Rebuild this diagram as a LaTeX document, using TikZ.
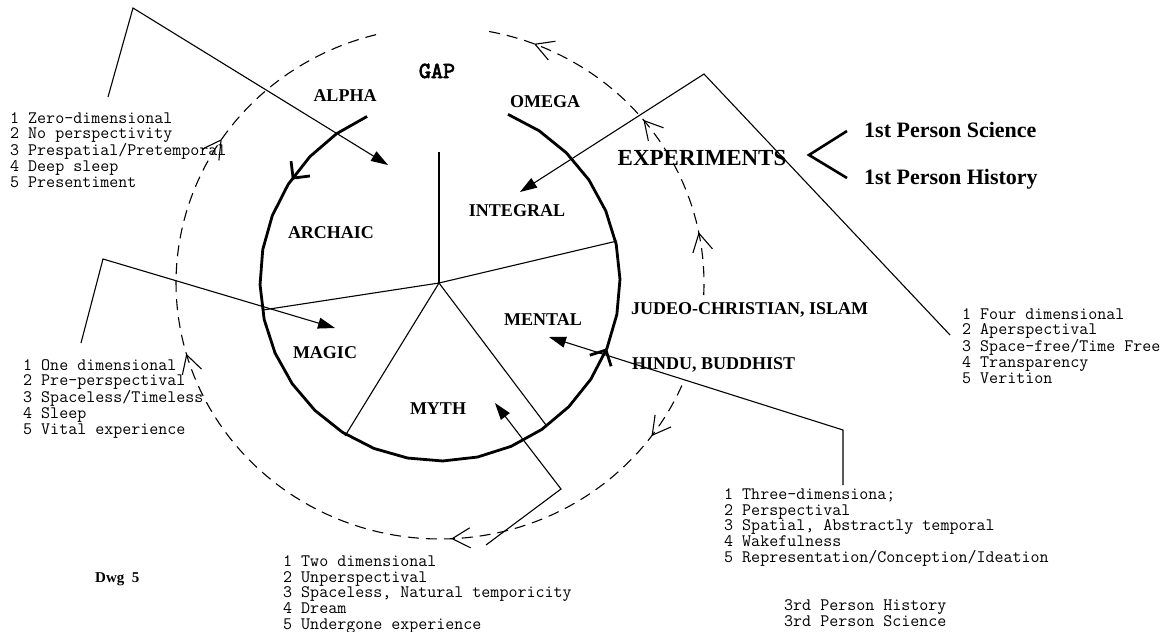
\documentclass[tikz,border=0pt]{standalone}
\usepackage{fontspec}
\setmainfont{Liberation Serif}
\newfontfamily\gapfont[FakeBold=3]{lmmono10-regular.otf}
\usetikzlibrary{arrows.meta,decorations.markings}
\begin{document}
\begin{tikzpicture}[x=1pt,y=-1pt,
  thinline/.style={line width=1.1pt},
  conn/.style={line width=1.1pt, -{Triangle[length=17pt,width=11pt]}},
  ring/.style={line width=2.8pt},
  orbit/.style={line width=1.1pt, dash pattern=on 11pt off 7pt},
  lab/.style={font=\fontsize{18}{20}\selectfont\bfseries, inner sep=0pt, anchor=base},
  labw/.style={font=\fontsize{18}{20}\selectfont\bfseries, inner sep=0pt, anchor=base west},
  big/.style={font=\fontsize{23}{26}\selectfont\bfseries, inner sep=0pt, anchor=base},
  person/.style={font=\fontsize{22}{24}\selectfont\bfseries, inner sep=0pt, anchor=base west},
  list/.style={font=\ttfamily\fontsize{17.5}{15.7}\selectfont, align=left, anchor=base west, inner sep=0pt},
]
\useasboundingbox (0,0) rectangle (1173,632);

% thick ring (alpha -> omega, counterclockwise)
\draw[ring, postaction={decorate}, decoration={markings,
   mark=at position 0.101 with {\arrow[solid]{Straight Barb[length=12pt,width=24pt]}},
   mark=at position 0.714 with {\arrow[solid]{Straight Barb[length=12pt,width=24pt]}}}]
  plot[domain=113.9:427.8, samples=29] ({440+180*cos(\x)},{281-180*sin(\x)});

% spokes
\coordinate (hub) at (439,283);
\coordinate (sUp) at (439,152);
\coordinate (sRight) at (617,241);
\coordinate (sLeft) at (263,310);
\coordinate (sDL) at (345,436);
\coordinate (sDR) at (546,425);
\draw[thinline] (hub) -- (sUp);
\draw[thinline] (hub) -- (sRight);
\draw[thinline] (hub) -- (sLeft);
\draw[thinline] (hub) -- (sDL);
\draw[thinline] (hub) -- (sDR);

% dashed orbits
\draw[orbit, postaction={decorate}, decoration={markings,
   mark=at position 0.17 with {\arrow[solid]{Straight Barb[length=18pt,width=20pt]}},
   mark=at position 0.51 with {\arrow[solid]{Straight Barb[length=18pt,width=20pt]}},
   mark=at position 0.872 with {\arrow[solid]{Straight Barb[length=18pt,width=20pt]}}}]
  plot[domain=-2.7:79.5, samples=50] ({440+264*cos(\x)},{283-256*sin(\x)});
\draw[orbit, postaction={decorate}, decoration={markings,
   mark=at position 0.056 with {\arrow[solid]{Straight Barb[length=18pt,width=20pt]}},
   mark=at position 0.276 with {\arrow[solid]{Straight Barb[length=18pt,width=20pt]}},
   mark=at position 0.605 with {\arrow[solid]{Straight Barb[length=18pt,width=20pt]}},
   mark=at position 0.818 with {\arrow[solid]{Straight Barb[length=18pt,width=20pt]}}}]
  plot[domain=23.6:256.4, samples=120] ({440+264*cos(\x)},{283+256*sin(\x)});

% labels
\node[font=\gapfont\fontsize{23}{26}\selectfont, inner sep=0pt, anchor=base] (gap) at (437,78) {GAP};
\node[lab] (alpha) at (345,101) {ALPHA};
\node[lab] (omega) at (545,107) {OMEGA};
\node[lab] (archaic) at (331,238) {ARCHAIC};
\node[lab] (integral) at (517,216) {INTEGRAL};
\node[lab] (magic) at (325,358) {MAGIC};
\node[lab] (mental) at (543,325) {MENTAL};
\node[lab] (myth) at (438,414) {MYTH};
\node[labw] (judeo) at (631,314) {JUDEO-CHRISTIAN, ISLAM};
\node[labw] (hindu) at (632,369) {HINDU, BUDDHIST};
\node[big] (exp) at (702,165) {EXPERIMENTS};
\node[person] (pSci) at (864,137) {1st Person Science};
\node[person] (pHist) at (864,184) {1st Person History};
\node[font=\fontsize{15}{17}\selectfont\bfseries, inner sep=0pt, anchor=base west] (dwg) at (95,582) {Dwg\ \ 5};

% bracket
\coordinate (brTop) at (847,131);
\coordinate (brTip) at (809,155);
\coordinate (brBot) at (847,178);
\draw[line width=2.6pt] (brTop) -- (brTip) -- (brBot);

% text blocks (anchor = baseline of last line)
\node[list] (zero) at (10,187.3) {1 Zero-dimensional\\2 No perspectivity\\3 Prespatial/Pretemporal\\4 Deep sleep\\5 Presentiment};
\node[list] (one) at (23,434.3) {1 One dimensional\\2 Pre-perspectival\\3 Spaceless/Timeless\\4 Sleep\\5 Vital experience};
\node[list] (two) at (283,629.3) {1 Two dimensional\\2 Unperspectival\\3 Spaceless, Natural temporicity\\4 Dream\\5 Undergone experience};
\node[list] (three) at (724,562.3) {1 Three-dimensiona;\\2 Perspectival\\3 Spatial, Abstractly temporal\\4 Wakefulness\\5 Representation/Conception/Ideation};
\node[list] (four) at (962,383.3) {1 Four dimensional\\2 Aperspectival\\3 Space-free/Time Free\\4 Transparency\\5 Verition};
\node[list] (third) at (784,626.2) {3rd Person History\\3rd Person Science};

% connectors
\coordinate (a0) at (108,97);
\coordinate (a1) at (133,8);
\coordinate (archT) at (388,165);
\draw[conn] (a0) -- (a1) -- (archT);
\coordinate (b0) at (81,343);
\coordinate (b1) at (103,259);
\coordinate (magT) at (335,328);
\draw[conn] (b0) -- (b1) -- (magT);
\coordinate (c0) at (486,545);
\coordinate (c1) at (561,489);
\coordinate (mythT) at (495,403);
\draw[conn] (c0) -- (c1) -- (mythT);
\coordinate (d0) at (843,485);
\coordinate (d1) at (843,430);
\coordinate (mentT) at (549,337);
\draw[conn] (d0) -- (d1) -- (mentT);
\coordinate (e0) at (950,335);
\coordinate (e1) at (704,74);
\coordinate (intT) at (520,192);
\draw[conn] (e0) -- (e1) -- (intT);
\end{tikzpicture}
\end{document}
